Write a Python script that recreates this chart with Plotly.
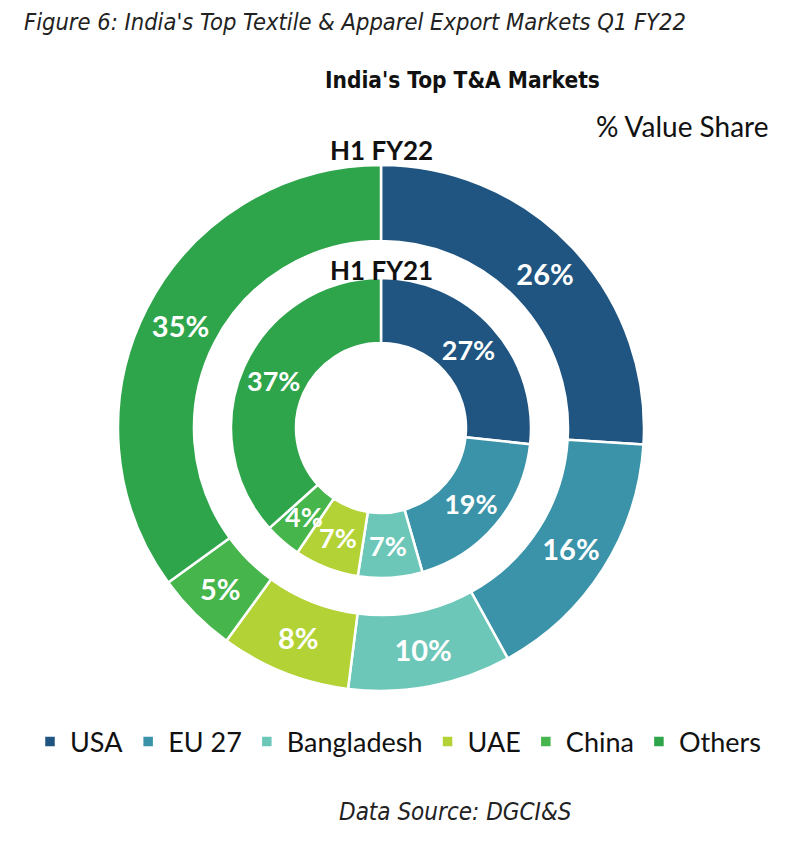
import math
import plotly.graph_objects as go

markets = ["USA", "EU 27", "Bangladesh", "UAE", "China", "Others"]
share_fy22 = [26, 16, 10, 8, 5, 35]
share_fy21 = [27, 19, 7, 7, 4, 37]
colors = ["#1F5580", "#3A93A8", "#6CC7B8", "#B2D235", "#45B54C", "#2EA44B"]

W, H = 800, 866
cx, cy = 381, 428  # centre in px (from top)
R_out, r_out = 263, 187
R_in, r_in = 150, 85


def dom(R):
    return dict(x=[(cx - R) / W, (cx + R) / W],
                y=[(H - cy - R) / H, (H - cy + R) / H])


LBL_FONT = "Lato, 'Open Sans', sans-serif"
NARROW = "'Liberation Sans Narrow', 'Arial Narrow', 'DejaVu Sans Condensed', sans-serif"

# inner-ring labels that do not fit inside their slice are drawn as overflowing text
inner_small = [v < 10 for v in share_fy21]
inner_text = ["" if s else f"{v}%" for v, s in zip(share_fy21, inner_small)]

fig = go.Figure()
fig.add_trace(go.Pie(
    labels=markets, values=share_fy22, name="H1 FY22",
    hole=r_out / R_out, domain=dom(R_out), sort=False, direction="clockwise", rotation=0,
    marker=dict(colors=colors, line=dict(color="white", width=2.5)),
    text=[f"{v}%" for v in share_fy22], textinfo="text",
    textposition="inside", insidetextorientation="horizontal",
    textfont=dict(family=LBL_FONT, size=29, color="white", weight="bold"),
    hoverinfo="label+value", showlegend=True,
))
fig.add_trace(go.Pie(
    labels=markets, values=share_fy21, name="H1 FY21",
    hole=r_in / R_in, domain=dom(R_in), sort=False, direction="clockwise", rotation=0,
    marker=dict(colors=colors, line=dict(color="white", width=2.5)),
    text=inner_text, textinfo="text",
    textposition="inside", insidetextorientation="horizontal",
    textfont=dict(family=LBL_FONT, size=27, color="white", weight="bold"),
    hoverinfo="label+value", showlegend=False,
))

ann = [
    dict(text="<i>Figure 6: India's Top Textile &amp; Apparel Export Markets Q1 FY22</i>",
         x=22 / W, y=1 - 22 / H, xanchor="left", yanchor="middle",
         font=dict(family=NARROW, size=23.5, color="#222222")),
    dict(text="<b>India's Top T&amp;A Markets</b>",
         x=462 / W, y=1 - 80 / H, xanchor="center", yanchor="middle",
         font=dict(family=NARROW, size=22.5, color="#111111")),
    dict(text="% Value Share",
         x=770 / W, y=1 - 126 / H, xanchor="right", yanchor="middle",
         font=dict(family=LBL_FONT, size=28, color="#111111")),
    dict(text="<b>H1 FY22</b>",
         x=cx / W, y=1 - 150 / H, xanchor="center", yanchor="middle",
         font=dict(family=LBL_FONT, size=26, color="#111111")),
    dict(text="<b>H1 FY21</b>",
         x=cx / W, y=1 - 270 / H, xanchor="center", yanchor="middle",
         font=dict(family=LBL_FONT, size=26, color="#111111")),
    dict(text="<i>Data Source: DGCI&amp;S</i>",
         x=455 / W, y=1 - 812 / H, xanchor="center", yanchor="middle",
         font=dict(family=NARROW, size=24, color="#222222")),
]

# overflowing labels for the thin inner slices, placed at the slice's mid-angle / mid-radius
total = sum(share_fy21)
cum = 0
rm = (R_in + r_in) / 2
for v, s in zip(share_fy21, inner_small):
    mid = 2 * math.pi * (cum + v / 2) / total
    cum += v
    if not s:
        continue
    px = cx + rm * math.sin(mid)
    py = cy - rm * math.cos(mid)
    ann.append(dict(text=f"<b>{v}%</b>", x=px / W, y=1 - py / H,
                    xanchor="center", yanchor="middle",
                    font=dict(family=LBL_FONT, size=27, color="white")))

for a in ann:
    a.update(xref="paper", yref="paper", showarrow=False)

fig.update_layout(
    width=W, height=H,
    margin=dict(l=0, r=0, t=0, b=0),
    paper_bgcolor="white", plot_bgcolor="white",
    annotations=ann,
    legend=dict(orientation="h", x=0.4975, xanchor="center", y=1 - 742 / H, yanchor="middle",
                font=dict(family=LBL_FONT, size=27, color="#111111"),
                itemwidth=30, traceorder="normal"),
)

fig.write_html("out.html", config={"displayModeBar": False},
               post_script="document.body.style.margin='0';")
